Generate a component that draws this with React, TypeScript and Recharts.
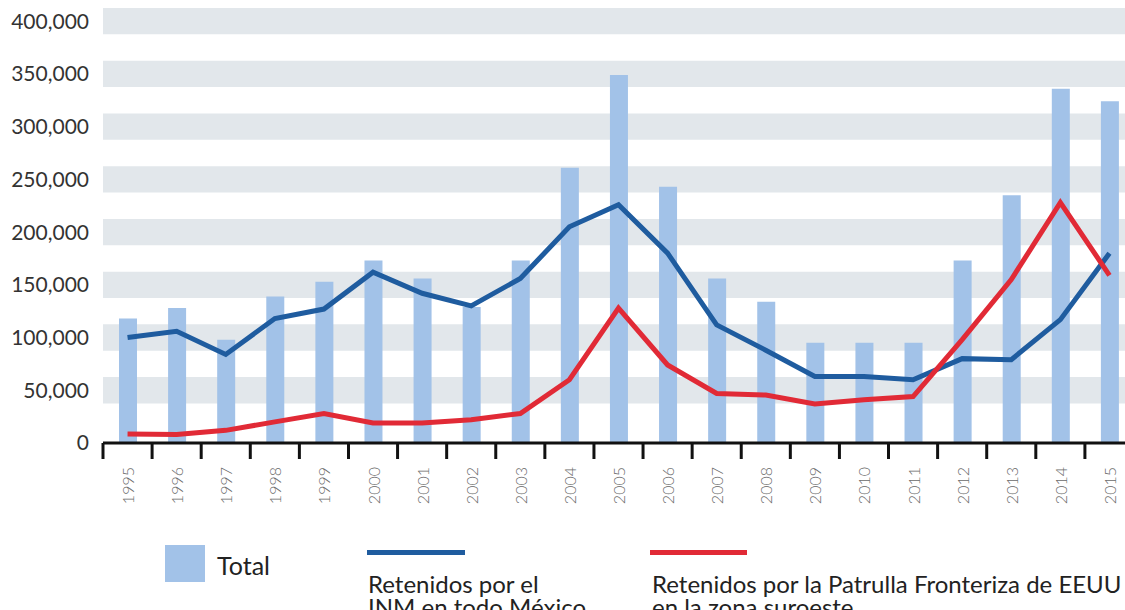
import React from 'react';
import { ComposedChart, Bar, Line, XAxis, YAxis, ReferenceArea } from 'recharts';

const years = ['1995', '1996', '1997', '1998', '1999', '2000', '2001', '2002', '2003', '2004', '2005', '2006', '2007', '2008', '2009', '2010', '2011', '2012', '2013', '2014', '2015'];
const total = [118000, 128000, 98000, 139000, 153000, 173000, 156000, 129000, 173000, 261000, 349000, 243000, 156000, 134000, 95000, 95000, 95000, 173000, 235000, 336000, 324000];
const inm = [100000, 106000, 84000, 118000, 127000, 162000, 142000, 130000, 156000, 205000, 226000, 180000, 112000, 88000, 63000, 63000, 60000, 80000, 79000, 117000, 180000];
const patrulla = [8500, 8000, 12000, 20000, 28000, 19000, 19000, 22000, 28000, 60000, 128000, 74000, 47000, 45500, 37000, 41000, 44000, 98000, 155000, 228000, 159000];
const yTicks = [0, 50000, 100000, 150000, 200000, 250000, 300000, 350000, 400000];
const bandTicks = [50000, 100000, 150000, 200000, 250000, 300000, 350000, 400000];
const BAND_HALF = 12500;
const Y_MAX = 412500;

const legendTotal = ['Total'];
const legendInm = ['Retenidos por el', 'INM en todo México'];
const legendPatrulla = ['Retenidos por la Patrulla Fronteriza de EEUU', 'en la zona suroeste'];

const BAR_COLOR = '#a2c2e8';
const BLUE = '#1f5c9f';
const RED = '#e12a36';
const STRIPE = '#e2e7eb';

const CHART_W = 1126;
const CHART_H = 515;
const YAXIS_W = 95;
const CAT_W = (CHART_W - YAXIS_W) / years.length;

const data = years.map((y, i) => ({ year: y, total: total[i], inm: inm[i], patrulla: patrulla[i] }));

const fmt = (v: number) => v.toLocaleString('en-US');

const XTick = (props: any) => {
  const { x, y, payload, index } = props;
  const half = CAT_W / 2;
  return (
    <g>
      <line x1={x - half} x2={x - half} y1={y} y2={y + 16} stroke="#111" strokeWidth={3} />
      {index === years.length - 1 && (
        <line x1={x + half} x2={x + half} y1={y} y2={y + 16} stroke="#111" strokeWidth={3} />
      )}
      <text
        transform={`translate(${x},${y + 24}) rotate(-90)`}
        textAnchor="end"
        dominantBaseline="central"
        fill="#6a6a6a"
        fontSize={16}
        fontWeight={300}
        fontFamily="Lato"
      >
        {payload.value}
      </text>
    </g>
  );
};

const textStyle: React.CSSProperties = {
  position: 'absolute',
  fontFamily: 'Lato',
  fontSize: 24,
  lineHeight: '23px',
  color: '#222',
  whiteSpace: 'nowrap',
};

export default function App() {
  return (
    <div style={{ position: 'absolute', left: 8, top: 8, width: 1117, height: 602, overflow: 'hidden', background: '#fff' }}>
      <ComposedChart
        width={CHART_W}
        height={CHART_H}
        data={data}
        margin={{ top: 0, right: 0, bottom: 0, left: 0 }}
        barCategoryGap={0}
        style={{ fontFamily: 'Lato' }}
      >
        {bandTicks.map((v) => (
          <ReferenceArea
            key={v}
            y1={v - BAND_HALF}
            y2={v + BAND_HALF}
            fill={STRIPE}
            fillOpacity={1}
            stroke="none"
            ifOverflow="visible"
          />
        ))}
        <XAxis
          dataKey="year"
          interval={0}
          height={80}
          tickSize={0}
          tickMargin={0}
          tickLine={false}
          axisLine={{ stroke: '#111', strokeWidth: 3 }}
          tick={<XTick />}
        />
        <YAxis
          width={YAXIS_W}
          domain={[0, Y_MAX]}
          ticks={yTicks}
          allowDataOverflow
          axisLine={false}
          tickLine={false}
          tickSize={0}
          tickMargin={14}
          tickFormatter={fmt}
          tick={{ fill: '#333', fontSize: 21, fontFamily: 'Lato' }}
        />
        <Bar dataKey="total" fill={BAR_COLOR} barSize={18} isAnimationActive={false} />
        <Line dataKey="inm" stroke={BLUE} strokeWidth={5} dot={false} type="linear" isAnimationActive={false} />
        <Line dataKey="patrulla" stroke={RED} strokeWidth={5} dot={false} type="linear" isAnimationActive={false} />
      </ComposedChart>

      <div style={{ position: 'absolute', left: 157, top: 537, width: 40, height: 37, background: BAR_COLOR }} />
      <div style={{ ...textStyle, left: 209, top: 545, fontSize: 25, lineHeight: '24px' }}>
        {legendTotal.map((l) => (<div key={l}>{l}</div>))}
      </div>

      <div style={{ position: 'absolute', left: 359, top: 542, width: 98, height: 5, background: BLUE }} />
      <div style={{ ...textStyle, left: 360, top: 564 }}>
        {legendInm.map((l) => (<div key={l}>{l}</div>))}
      </div>

      <div style={{ position: 'absolute', left: 642, top: 542, width: 97, height: 5, background: RED }} />
      <div style={{ ...textStyle, left: 644, top: 564 }}>
        {legendPatrulla.map((l) => (<div key={l}>{l}</div>))}
      </div>
    </div>
  );
}
